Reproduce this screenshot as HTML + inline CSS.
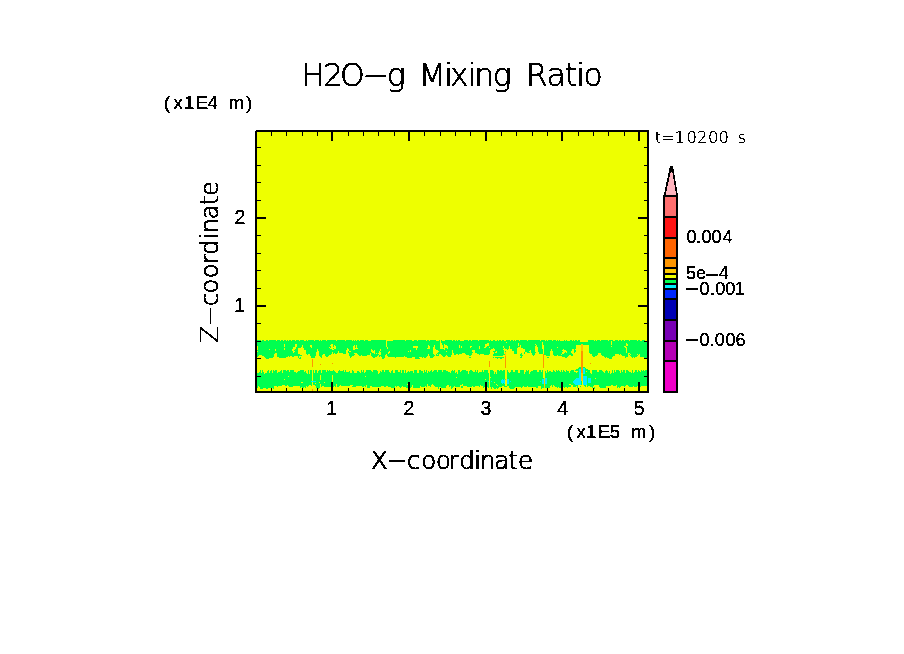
<!DOCTYPE html>
<html><head><meta charset="utf-8"><title>H2O-g Mixing Ratio</title>
<style>html,body{margin:0;padding:0;background:#fff;width:904px;height:654px;overflow:hidden}svg{display:block}text{fill:#000}</style>
</head><body><svg width="904" height="654" viewBox="0 0 904 654" shape-rendering="crispEdges"><defs><filter id="bin" filterUnits="userSpaceOnUse" x="0" y="0" width="904" height="654"><feComponentTransfer><feFuncA type="discrete" tableValues="0 1 1"/></feComponentTransfer></filter></defs><rect x="257" y="132" width="390" height="259" fill="#eeff00"/><path fill="#00ff50" d="M257 340h4v1h-4zM262 340h2v1h-2zM266 340h2v1h-2zM269 340h7v1h-7zM277 340h3v1h-3zM281 340h2v1h-2zM284 340h2v1h-2zM287 340h1v1h-1zM289 340h2v1h-2zM292 340h3v1h-3zM296 340h3v1h-3zM300 340h4v1h-4zM306 340h1v1h-1zM308 340h6v1h-6zM315 340h4v1h-4zM320 340h1v1h-1zM322 340h4v1h-4zM327 340h9v1h-9zM337 340h8v1h-8zM346 340h6v1h-6zM353 340h1v1h-1zM355 340h1v1h-1zM357 340h2v1h-2zM360 340h4v1h-4zM365 340h3v1h-3zM371 340h15v1h-15zM393 340h12v1h-12zM406 340h6v1h-6zM414 340h3v1h-3zM418 340h8v1h-8zM427 340h2v1h-2zM430 340h6v1h-6zM439 340h1v1h-1zM441 340h1v1h-1zM445 340h7v1h-7zM453 340h2v1h-2zM456 340h1v1h-1zM458 340h2v1h-2zM464 340h4v1h-4zM469 340h2v1h-2zM472 340h6v1h-6zM479 340h10v1h-10zM490 340h1v1h-1zM493 340h2v1h-2zM497 340h1v1h-1zM499 340h2v1h-2zM502 340h2v1h-2zM506 340h4v1h-4zM511 340h2v1h-2zM514 340h1v1h-1zM516 340h3v1h-3zM520 340h7v1h-7zM528 340h12v1h-12zM541 340h4v1h-4zM546 340h1v1h-1zM548 340h4v1h-4zM553 340h3v1h-3zM557 340h1v1h-1zM559 340h1v1h-1zM564 340h1v1h-1zM566 340h1v1h-1zM570 340h2v1h-2zM573 340h1v1h-1zM575 340h2v1h-2zM578 340h2v1h-2zM588 340h6v1h-6zM595 340h1v1h-1zM597 340h3v1h-3zM601 340h7v1h-7zM609 340h4v1h-4zM615 340h3v1h-3zM619 340h2v1h-2zM622 340h2v1h-2zM625 340h4v1h-4zM630 340h7v1h-7zM638 340h2v1h-2zM642 340h3v1h-3zM257 341h129v1h-129zM387 341h53v1h-53zM441 341h139v1h-139zM588 341h23v1h-23zM612 341h35v1h-35zM257 342h129v1h-129zM387 342h53v1h-53zM441 342h65v1h-65zM507 342h35v1h-35zM543 342h68v1h-68zM612 342h35v1h-35zM257 343h129v1h-129zM387 343h53v1h-53zM442 343h45v1h-45zM489 343h29v1h-29zM519 343h23v1h-23zM543 343h68v1h-68zM612 343h14v1h-14zM627 343h20v1h-20zM257 344h27v1h-27zM285 344h10v1h-10zM297 344h34v1h-34zM333 344h53v1h-53zM387 344h53v1h-53zM442 344h2v1h-2zM445 344h40v1h-40zM489 344h29v1h-29zM519 344h16v1h-16zM536 344h6v1h-6zM543 344h38v1h-38zM583 344h28v1h-28zM612 344h14v1h-14zM628 344h19v1h-19zM257 345h27v1h-27zM285 345h10v1h-10zM297 345h5v1h-5zM303 345h7v1h-7zM312 345h18v1h-18zM333 345h1v1h-1zM335 345h19v1h-19zM355 345h1v1h-1zM357 345h29v1h-29zM387 345h41v1h-41zM429 345h5v1h-5zM435 345h5v1h-5zM443 345h1v1h-1zM447 345h12v1h-12zM460 345h25v1h-25zM489 345h29v1h-29zM519 345h1v1h-1zM521 345h15v1h-15zM537 345h5v1h-5zM544 345h32v1h-32zM589 345h37v1h-37zM628 345h19v1h-19zM258 346h26v1h-26zM285 346h10v1h-10zM297 346h5v1h-5zM303 346h7v1h-7zM312 346h19v1h-19zM333 346h1v1h-1zM336 346h17v1h-17zM355 346h1v1h-1zM357 346h29v1h-29zM387 346h26v1h-26zM418 346h10v1h-10zM430 346h4v1h-4zM435 346h5v1h-5zM443 346h1v1h-1zM448 346h11v1h-11zM460 346h1v1h-1zM462 346h8v1h-8zM472 346h7v1h-7zM480 346h5v1h-5zM487 346h16v1h-16zM504 346h5v1h-5zM510 346h10v1h-10zM521 346h14v1h-14zM537 346h5v1h-5zM544 346h32v1h-32zM589 346h22v1h-22zM612 346h12v1h-12zM626 346h21v1h-21zM258 347h35v1h-35zM296 347h5v1h-5zM303 347h8v1h-8zM312 347h17v1h-17zM330 347h1v1h-1zM336 347h17v1h-17zM355 347h1v1h-1zM357 347h30v1h-30zM388 347h25v1h-25zM418 347h10v1h-10zM430 347h3v1h-3zM435 347h5v1h-5zM443 347h1v1h-1zM448 347h11v1h-11zM460 347h1v1h-1zM462 347h8v1h-8zM471 347h8v1h-8zM480 347h4v1h-4zM486 347h3v1h-3zM490 347h13v1h-13zM504 347h5v1h-5zM510 347h8v1h-8zM521 347h14v1h-14zM538 347h4v1h-4zM544 347h13v1h-13zM558 347h18v1h-18zM589 347h36v1h-36zM627 347h20v1h-20zM258 348h26v1h-26zM285 348h8v1h-8zM296 348h2v1h-2zM304 348h26v1h-26zM333 348h1v1h-1zM336 348h11v1h-11zM348 348h5v1h-5zM358 348h29v1h-29zM388 348h28v1h-28zM417 348h10v1h-10zM430 348h3v1h-3zM435 348h5v1h-5zM445 348h2v1h-2zM448 348h31v1h-31zM480 348h13v1h-13zM494 348h10v1h-10zM505 348h4v1h-4zM510 348h7v1h-7zM523 348h12v1h-12zM538 348h4v1h-4zM544 348h32v1h-32zM589 348h37v1h-37zM627 348h20v1h-20zM258 349h11v1h-11zM270 349h5v1h-5zM276 349h8v1h-8zM285 349h7v1h-7zM295 349h3v1h-3zM304 349h13v1h-13zM318 349h14v1h-14zM334 349h13v1h-13zM349 349h4v1h-4zM355 349h16v1h-16zM372 349h8v1h-8zM381 349h35v1h-35zM417 349h16v1h-16zM436 349h8v1h-8zM445 349h46v1h-46zM495 349h8v1h-8zM507 349h1v1h-1zM512 349h5v1h-5zM525 349h10v1h-10zM538 349h5v1h-5zM544 349h7v1h-7zM552 349h11v1h-11zM564 349h8v1h-8zM574 349h1v1h-1zM589 349h37v1h-37zM627 349h20v1h-20zM257 350h18v1h-18zM276 350h16v1h-16zM294 350h4v1h-4zM306 350h11v1h-11zM318 350h28v1h-28zM349 350h22v1h-22zM373 350h1v1h-1zM375 350h5v1h-5zM381 350h29v1h-29zM411 350h22v1h-22zM438 350h14v1h-14zM453 350h19v1h-19zM475 350h15v1h-15zM495 350h9v1h-9zM512 350h5v1h-5zM525 350h5v1h-5zM531 350h4v1h-4zM538 350h5v1h-5zM544 350h7v1h-7zM552 350h10v1h-10zM566 350h6v1h-6zM574 350h2v1h-2zM589 350h37v1h-37zM627 350h20v1h-20zM258 351h35v1h-35zM295 351h3v1h-3zM306 351h11v1h-11zM319 351h19v1h-19zM339 351h7v1h-7zM348 351h1v1h-1zM351 351h20v1h-20zM375 351h4v1h-4zM380 351h9v1h-9zM390 351h18v1h-18zM409 351h1v1h-1zM411 351h22v1h-22zM439 351h7v1h-7zM447 351h5v1h-5zM453 351h19v1h-19zM475 351h15v1h-15zM493 351h3v1h-3zM497 351h7v1h-7zM505 351h1v1h-1zM514 351h3v1h-3zM525 351h4v1h-4zM531 351h4v1h-4zM538 351h5v1h-5zM544 351h6v1h-6zM553 351h10v1h-10zM567 351h4v1h-4zM574 351h2v1h-2zM589 351h37v1h-37zM627 351h20v1h-20zM257 352h36v1h-36zM294 352h4v1h-4zM306 352h10v1h-10zM319 352h13v1h-13zM333 352h5v1h-5zM339 352h7v1h-7zM348 352h24v1h-24zM375 352h4v1h-4zM381 352h7v1h-7zM390 352h43v1h-43zM438 352h14v1h-14zM453 352h20v1h-20zM475 352h15v1h-15zM494 352h1v1h-1zM497 352h7v1h-7zM514 352h3v1h-3zM524 352h1v1h-1zM527 352h3v1h-3zM531 352h5v1h-5zM539 352h4v1h-4zM544 352h6v1h-6zM553 352h9v1h-9zM565 352h1v1h-1zM567 352h4v1h-4zM574 352h1v1h-1zM589 352h37v1h-37zM627 352h20v1h-20zM257 353h18v1h-18zM277 353h21v1h-21zM306 353h10v1h-10zM319 353h13v1h-13zM333 353h1v1h-1zM335 353h2v1h-2zM343 353h3v1h-3zM349 353h5v1h-5zM357 353h13v1h-13zM371 353h3v1h-3zM375 353h1v1h-1zM377 353h1v1h-1zM381 353h7v1h-7zM389 353h44v1h-44zM437 353h15v1h-15zM454 353h8v1h-8zM465 353h7v1h-7zM477 353h13v1h-13zM494 353h10v1h-10zM514 353h3v1h-3zM521 353h1v1h-1zM524 353h1v1h-1zM532 353h3v1h-3zM539 353h4v1h-4zM544 353h6v1h-6zM553 353h9v1h-9zM564 353h8v1h-8zM590 353h8v1h-8zM601 353h27v1h-27zM630 353h17v1h-17zM257 354h17v1h-17zM277 354h23v1h-23zM307 354h1v1h-1zM310 354h6v1h-6zM319 354h4v1h-4zM325 354h6v1h-6zM349 354h6v1h-6zM358 354h12v1h-12zM371 354h8v1h-8zM381 354h5v1h-5zM387 354h41v1h-41zM429 354h5v1h-5zM436 354h1v1h-1zM438 354h1v1h-1zM441 354h11v1h-11zM454 354h2v1h-2zM458 354h1v1h-1zM466 354h6v1h-6zM479 354h1v1h-1zM484 354h5v1h-5zM493 354h12v1h-12zM520 354h2v1h-2zM532 354h3v1h-3zM544 354h6v1h-6zM553 354h8v1h-8zM562 354h11v1h-11zM592 354h6v1h-6zM601 354h14v1h-14zM619 354h1v1h-1zM621 354h7v1h-7zM629 354h1v1h-1zM631 354h6v1h-6zM638 354h1v1h-1zM640 354h7v1h-7zM257 355h2v1h-2zM262 355h12v1h-12zM277 355h25v1h-25zM310 355h6v1h-6zM319 355h3v1h-3zM325 355h4v1h-4zM349 355h5v1h-5zM359 355h2v1h-2zM362 355h5v1h-5zM371 355h7v1h-7zM379 355h6v1h-6zM387 355h41v1h-41zM429 355h6v1h-6zM436 355h3v1h-3zM442 355h4v1h-4zM447 355h4v1h-4zM469 355h2v1h-2zM493 355h10v1h-10zM520 355h3v1h-3zM533 355h1v1h-1zM546 355h4v1h-4zM554 355h3v1h-3zM558 355h11v1h-11zM571 355h2v1h-2zM592 355h5v1h-5zM602 355h13v1h-13zM622 355h6v1h-6zM630 355h8v1h-8zM640 355h7v1h-7zM257 356h1v1h-1zM264 356h10v1h-10zM277 356h11v1h-11zM289 356h1v1h-1zM292 356h2v1h-2zM298 356h1v1h-1zM311 356h4v1h-4zM320 356h2v1h-2zM326 356h2v1h-2zM350 356h2v1h-2zM372 356h5v1h-5zM379 356h1v1h-1zM381 356h4v1h-4zM388 356h16v1h-16zM405 356h22v1h-22zM430 356h4v1h-4zM443 356h2v1h-2zM448 356h3v1h-3zM521 356h1v1h-1zM562 356h6v1h-6zM593 356h2v1h-2zM604 356h9v1h-9zM625 356h3v1h-3zM631 356h6v1h-6zM640 356h7v1h-7zM265 357h8v1h-8zM279 357h7v1h-7zM298 357h1v1h-1zM300 357h1v1h-1zM311 357h4v1h-4zM321 357h1v1h-1zM350 357h1v1h-1zM373 357h2v1h-2zM382 357h3v1h-3zM395 357h1v1h-1zM407 357h5v1h-5zM415 357h4v1h-4zM422 357h1v1h-1zM424 357h2v1h-2zM430 357h3v1h-3zM469 357h2v1h-2zM493 357h1v1h-1zM495 357h9v1h-9zM520 357h2v1h-2zM547 357h2v1h-2zM565 357h2v1h-2zM605 357h1v1h-1zM607 357h5v1h-5zM625 357h1v1h-1zM632 357h1v1h-1zM634 357h1v1h-1zM644 357h3v1h-3zM266 358h3v1h-3zM299 358h2v1h-2zM382 358h2v1h-2zM415 358h5v1h-5zM497 358h1v1h-1zM500 358h2v1h-2zM609 358h3v1h-3zM644 358h2v1h-2zM579 367h2v1h-2zM583 367h2v1h-2zM578 368h3v1h-3zM585 368h1v1h-1zM576 369h3v1h-3zM585 369h3v1h-3zM260 370h1v1h-1zM262 370h1v1h-1zM268 370h1v1h-1zM271 370h1v1h-1zM273 370h1v1h-1zM275 370h2v1h-2zM281 370h1v1h-1zM283 370h3v1h-3zM287 370h2v1h-2zM290 370h4v1h-4zM300 370h4v1h-4zM308 370h1v1h-1zM310 370h2v1h-2zM313 370h1v1h-1zM315 370h2v1h-2zM319 370h2v1h-2zM322 370h4v1h-4zM327 370h1v1h-1zM329 370h1v1h-1zM333 370h1v1h-1zM339 370h1v1h-1zM343 370h1v1h-1zM345 370h1v1h-1zM352 370h1v1h-1zM361 370h1v1h-1zM363 370h1v1h-1zM366 370h5v1h-5zM373 370h4v1h-4zM382 370h2v1h-2zM385 370h4v1h-4zM392 370h1v1h-1zM395 370h3v1h-3zM400 370h1v1h-1zM402 370h2v1h-2zM405 370h1v1h-1zM414 370h3v1h-3zM419 370h2v1h-2zM424 370h1v1h-1zM426 370h1v1h-1zM431 370h1v1h-1zM434 370h3v1h-3zM438 370h4v1h-4zM443 370h3v1h-3zM452 370h1v1h-1zM454 370h1v1h-1zM458 370h2v1h-2zM462 370h4v1h-4zM470 370h2v1h-2zM475 370h1v1h-1zM477 370h1v1h-1zM482 370h1v1h-1zM484 370h4v1h-4zM490 370h3v1h-3zM497 370h2v1h-2zM500 370h2v1h-2zM503 370h2v1h-2zM507 370h1v1h-1zM511 370h2v1h-2zM515 370h3v1h-3zM520 370h4v1h-4zM526 370h1v1h-1zM528 370h1v1h-1zM533 370h4v1h-4zM539 370h2v1h-2zM542 370h1v1h-1zM547 370h1v1h-1zM553 370h1v1h-1zM556 370h1v1h-1zM558 370h1v1h-1zM561 370h1v1h-1zM563 370h1v1h-1zM566 370h1v1h-1zM571 370h3v1h-3zM575 370h4v1h-4zM585 370h5v1h-5zM592 370h5v1h-5zM599 370h3v1h-3zM606 370h1v1h-1zM612 370h1v1h-1zM614 370h1v1h-1zM616 370h3v1h-3zM621 370h1v1h-1zM623 370h2v1h-2zM626 370h2v1h-2zM632 370h1v1h-1zM635 370h2v1h-2zM638 370h1v1h-1zM641 370h1v1h-1zM643 370h1v1h-1zM645 370h2v1h-2zM260 371h1v1h-1zM262 371h1v1h-1zM267 371h2v1h-2zM270 371h2v1h-2zM273 371h4v1h-4zM280 371h2v1h-2zM283 371h6v1h-6zM290 371h4v1h-4zM298 371h6v1h-6zM305 371h1v1h-1zM308 371h1v1h-1zM310 371h2v1h-2zM313 371h1v1h-1zM315 371h2v1h-2zM318 371h3v1h-3zM322 371h4v1h-4zM327 371h8v1h-8zM338 371h6v1h-6zM345 371h1v1h-1zM349 371h1v1h-1zM352 371h2v1h-2zM357 371h2v1h-2zM361 371h1v1h-1zM363 371h1v1h-1zM366 371h6v1h-6zM373 371h5v1h-5zM380 371h1v1h-1zM382 371h2v1h-2zM385 371h4v1h-4zM391 371h2v1h-2zM395 371h3v1h-3zM400 371h1v1h-1zM402 371h2v1h-2zM405 371h1v1h-1zM408 371h1v1h-1zM410 371h3v1h-3zM414 371h3v1h-3zM419 371h4v1h-4zM424 371h1v1h-1zM426 371h1v1h-1zM428 371h1v1h-1zM430 371h2v1h-2zM433 371h4v1h-4zM438 371h4v1h-4zM443 371h5v1h-5zM451 371h4v1h-4zM458 371h2v1h-2zM461 371h7v1h-7zM469 371h4v1h-4zM475 371h1v1h-1zM477 371h1v1h-1zM482 371h1v1h-1zM484 371h4v1h-4zM490 371h4v1h-4zM497 371h8v1h-8zM507 371h1v1h-1zM511 371h2v1h-2zM515 371h3v1h-3zM520 371h4v1h-4zM526 371h3v1h-3zM531 371h6v1h-6zM539 371h2v1h-2zM542 371h1v1h-1zM545 371h1v1h-1zM547 371h1v1h-1zM549 371h2v1h-2zM553 371h2v1h-2zM556 371h4v1h-4zM561 371h1v1h-1zM563 371h2v1h-2zM566 371h3v1h-3zM570 371h4v1h-4zM578 371h1v1h-1zM585 371h1v1h-1zM587 371h3v1h-3zM592 371h5v1h-5zM599 371h4v1h-4zM605 371h3v1h-3zM609 371h1v1h-1zM612 371h1v1h-1zM614 371h1v1h-1zM616 371h4v1h-4zM621 371h1v1h-1zM623 371h2v1h-2zM626 371h3v1h-3zM632 371h1v1h-1zM635 371h2v1h-2zM638 371h2v1h-2zM641 371h6v1h-6zM259 372h2v1h-2zM262 372h2v1h-2zM267 372h2v1h-2zM270 372h2v1h-2zM273 372h4v1h-4zM278 372h4v1h-4zM283 372h13v1h-13zM297 372h9v1h-9zM308 372h1v1h-1zM310 372h2v1h-2zM313 372h1v1h-1zM315 372h2v1h-2zM318 372h3v1h-3zM322 372h14v1h-14zM338 372h12v1h-12zM352 372h2v1h-2zM357 372h3v1h-3zM361 372h3v1h-3zM365 372h13v1h-13zM380 372h10v1h-10zM391 372h2v1h-2zM395 372h6v1h-6zM402 372h2v1h-2zM405 372h1v1h-1zM407 372h6v1h-6zM414 372h3v1h-3zM419 372h4v1h-4zM424 372h3v1h-3zM428 372h22v1h-22zM451 372h4v1h-4zM456 372h1v1h-1zM458 372h10v1h-10zM469 372h9v1h-9zM479 372h9v1h-9zM490 372h4v1h-4zM495 372h1v1h-1zM497 372h8v1h-8zM507 372h2v1h-2zM510 372h8v1h-8zM520 372h4v1h-4zM525 372h4v1h-4zM530 372h13v1h-13zM545 372h1v1h-1zM547 372h22v1h-22zM570 372h6v1h-6zM577 372h2v1h-2zM585 372h5v1h-5zM592 372h12v1h-12zM605 372h3v1h-3zM609 372h1v1h-1zM612 372h1v1h-1zM614 372h6v1h-6zM621 372h4v1h-4zM626 372h5v1h-5zM632 372h1v1h-1zM634 372h13v1h-13zM257 373h7v1h-7zM265 373h42v1h-42zM308 373h1v1h-1zM310 373h2v1h-2zM313 373h65v1h-65zM379 373h78v1h-78zM458 373h10v1h-10zM469 373h20v1h-20zM490 373h4v1h-4zM495 373h1v1h-1zM497 373h8v1h-8zM507 373h17v1h-17zM525 373h4v1h-4zM530 373h13v1h-13zM545 373h34v1h-34zM585 373h6v1h-6zM592 373h18v1h-18zM611 373h36v1h-36zM257 374h55v1h-55zM313 374h176v1h-176zM490 374h15v1h-15zM507 374h36v1h-36zM545 374h34v1h-34zM583 374h64v1h-64zM257 375h55v1h-55zM313 375h7v1h-7zM321 375h11v1h-11zM333 375h156v1h-156zM490 375h15v1h-15zM507 375h36v1h-36zM545 375h34v1h-34zM583 375h64v1h-64zM257 376h31v1h-31zM289 376h23v1h-23zM313 376h7v1h-7zM321 376h11v1h-11zM333 376h32v1h-32zM366 376h123v1h-123zM490 376h15v1h-15zM507 376h36v1h-36zM545 376h34v1h-34zM587 376h60v1h-60zM257 377h55v1h-55zM313 377h7v1h-7zM321 377h11v1h-11zM333 377h123v1h-123zM457 377h32v1h-32zM491 377h14v1h-14zM507 377h36v1h-36zM545 377h34v1h-34zM587 377h60v1h-60zM257 378h55v1h-55zM313 378h7v1h-7zM321 378h11v1h-11zM333 378h156v1h-156zM490 378h15v1h-15zM507 378h37v1h-37zM547 378h29v1h-29zM587 378h1v1h-1zM591 378h4v1h-4zM596 378h51v1h-51zM257 379h27v1h-27zM285 379h27v1h-27zM313 379h7v1h-7zM321 379h11v1h-11zM333 379h152v1h-152zM486 379h3v1h-3zM490 379h12v1h-12zM503 379h1v1h-1zM509 379h33v1h-33zM547 379h28v1h-28zM587 379h1v1h-1zM591 379h56v1h-56zM257 380h55v1h-55zM313 380h19v1h-19zM333 380h156v1h-156zM490 380h11v1h-11zM509 380h33v1h-33zM547 380h27v1h-27zM587 380h1v1h-1zM591 380h56v1h-56zM257 381h54v1h-54zM316 381h16v1h-16zM333 381h155v1h-155zM490 381h1v1h-1zM492 381h9v1h-9zM509 381h1v1h-1zM511 381h29v1h-29zM541 381h1v1h-1zM547 381h26v1h-26zM581 381h1v1h-1zM587 381h1v1h-1zM591 381h56v1h-56zM257 382h44v1h-44zM303 382h9v1h-9zM313 382h6v1h-6zM320 382h4v1h-4zM325 382h7v1h-7zM333 382h156v1h-156zM490 382h4v1h-4zM495 382h6v1h-6zM509 382h33v1h-33zM547 382h26v1h-26zM581 382h1v1h-1zM587 382h1v1h-1zM591 382h56v1h-56zM257 383h55v1h-55zM313 383h2v1h-2zM316 383h173v1h-173zM490 383h12v1h-12zM503 383h1v1h-1zM509 383h33v1h-33zM547 383h27v1h-27zM581 383h1v1h-1zM587 383h60v1h-60zM257 384h55v1h-55zM313 384h7v1h-7zM321 384h15v1h-15zM337 384h70v1h-70zM408 384h19v1h-19zM428 384h4v1h-4zM433 384h29v1h-29zM463 384h26v1h-26zM490 384h6v1h-6zM497 384h8v1h-8zM507 384h37v1h-37zM545 384h24v1h-24zM571 384h4v1h-4zM581 384h1v1h-1zM587 384h60v1h-60zM257 385h25v1h-25zM285 385h2v1h-2zM288 385h21v1h-21zM311 385h1v1h-1zM315 385h5v1h-5zM321 385h15v1h-15zM337 385h3v1h-3zM341 385h9v1h-9zM353 385h13v1h-13zM367 385h45v1h-45zM413 385h14v1h-14zM428 385h3v1h-3zM434 385h13v1h-13zM449 385h11v1h-11zM463 385h17v1h-17zM481 385h8v1h-8zM490 385h7v1h-7zM498 385h7v1h-7zM507 385h37v1h-37zM545 385h6v1h-6zM552 385h1v1h-1zM554 385h17v1h-17zM573 385h5v1h-5zM584 385h2v1h-2zM587 385h7v1h-7zM599 385h12v1h-12zM613 385h3v1h-3zM617 385h9v1h-9zM628 385h19v1h-19zM257 386h1v1h-1zM259 386h15v1h-15zM277 386h1v1h-1zM289 386h4v1h-4zM300 386h6v1h-6zM307 386h1v1h-1zM316 386h4v1h-4zM321 386h1v1h-1zM324 386h7v1h-7zM333 386h1v1h-1zM335 386h1v1h-1zM337 386h2v1h-2zM352 386h4v1h-4zM362 386h2v1h-2zM365 386h1v1h-1zM367 386h3v1h-3zM372 386h9v1h-9zM384 386h2v1h-2zM388 386h7v1h-7zM396 386h1v1h-1zM399 386h3v1h-3zM403 386h9v1h-9zM413 386h7v1h-7zM421 386h4v1h-4zM426 386h1v1h-1zM430 386h1v1h-1zM435 386h11v1h-11zM449 386h1v1h-1zM451 386h3v1h-3zM455 386h5v1h-5zM461 386h2v1h-2zM467 386h5v1h-5zM473 386h2v1h-2zM479 386h1v1h-1zM483 386h6v1h-6zM490 386h12v1h-12zM504 386h3v1h-3zM509 386h14v1h-14zM524 386h3v1h-3zM528 386h10v1h-10zM541 386h3v1h-3zM545 386h5v1h-5zM552 386h1v1h-1zM555 386h6v1h-6zM562 386h9v1h-9zM573 386h3v1h-3zM577 386h1v1h-1zM580 386h1v1h-1zM585 386h1v1h-1zM587 386h1v1h-1zM590 386h3v1h-3zM599 386h7v1h-7zM617 386h4v1h-4zM624 386h1v1h-1zM629 386h4v1h-4zM634 386h3v1h-3zM640 386h1v1h-1zM257 387h1v1h-1zM260 387h14v1h-14zM300 387h1v1h-1zM302 387h2v1h-2zM305 387h1v1h-1zM316 387h4v1h-4zM367 387h3v1h-3zM391 387h4v1h-4zM400 387h1v1h-1zM406 387h5v1h-5zM413 387h7v1h-7zM438 387h1v1h-1zM441 387h5v1h-5zM451 387h2v1h-2zM461 387h2v1h-2zM483 387h1v1h-1zM485 387h1v1h-1zM488 387h1v1h-1zM491 387h1v1h-1zM493 387h6v1h-6zM509 387h6v1h-6zM521 387h1v1h-1zM536 387h2v1h-2zM541 387h3v1h-3zM545 387h5v1h-5zM557 387h1v1h-1zM559 387h2v1h-2zM564 387h1v1h-1zM567 387h1v1h-1zM577 387h1v1h-1zM592 387h1v1h-1zM594 387h1v1h-1zM600 387h6v1h-6zM617 387h1v1h-1zM619 387h1v1h-1zM260 388h3v1h-3zM266 388h2v1h-2zM273 388h1v1h-1zM317 388h2v1h-2zM438 388h1v1h-1zM451 388h1v1h-1zM491 388h1v1h-1zM494 388h2v1h-2zM497 388h1v1h-1zM510 388h4v1h-4zM541 388h1v1h-1zM594 388h1v1h-1z"/><path fill="#00f0ff" d="M583 368h2v1h-2zM579 369h2v1h-2zM583 369h2v1h-2zM579 370h2v1h-2zM583 370h2v1h-2zM579 371h2v1h-2zM583 371h2v1h-2zM579 372h2v1h-2zM583 372h2v1h-2zM579 373h2v1h-2zM583 373h2v1h-2zM579 374h2v1h-2zM579 375h2v1h-2zM579 376h2v1h-2zM583 376h4v1h-4zM579 377h2v1h-2zM583 377h4v1h-4zM545 378h2v1h-2zM576 378h5v1h-5zM583 378h4v1h-4zM588 378h3v1h-3zM502 379h1v1h-1zM504 379h1v1h-1zM507 379h2v1h-2zM542 379h2v1h-2zM545 379h2v1h-2zM575 379h6v1h-6zM583 379h4v1h-4zM588 379h3v1h-3zM501 380h4v1h-4zM507 380h2v1h-2zM542 380h2v1h-2zM545 380h2v1h-2zM574 380h7v1h-7zM583 380h4v1h-4zM588 380h3v1h-3zM311 381h5v1h-5zM488 381h1v1h-1zM491 381h1v1h-1zM501 381h4v1h-4zM507 381h2v1h-2zM510 381h1v1h-1zM540 381h1v1h-1zM542 381h2v1h-2zM545 381h2v1h-2zM573 381h8v1h-8zM583 381h4v1h-4zM588 381h3v1h-3zM501 382h4v1h-4zM507 382h2v1h-2zM542 382h2v1h-2zM545 382h2v1h-2zM573 382h8v1h-8zM583 382h4v1h-4zM588 382h3v1h-3zM502 383h1v1h-1zM504 383h1v1h-1zM507 383h2v1h-2zM542 383h2v1h-2zM545 383h2v1h-2zM574 383h7v1h-7zM583 383h4v1h-4zM575 384h6v1h-6zM583 384h4v1h-4z"/><path fill="#ffc800" d="M581 344h2v1h-2zM581 345h2v1h-2zM581 346h2v1h-2zM581 347h2v1h-2zM581 348h2v1h-2zM581 349h2v1h-2zM581 350h2v1h-2zM505 352h1v1h-1zM505 353h1v1h-1zM505 354h1v1h-1zM505 355h1v1h-1zM581 373h2v1h-2zM581 374h2v1h-2zM581 375h2v1h-2zM581 376h2v1h-2zM581 377h2v1h-2zM544 378h1v1h-1zM581 378h2v1h-2zM544 379h1v1h-1zM581 379h2v1h-2zM544 380h1v1h-1zM581 380h2v1h-2zM544 381h1v1h-1zM544 382h1v1h-1zM544 383h1v1h-1zM544 384h1v1h-1zM544 385h1v1h-1zM544 386h1v1h-1zM544 387h1v1h-1z"/><path fill="#ff9600" d="M581 351h2v1h-2zM581 352h2v1h-2zM581 353h2v1h-2zM543 354h1v1h-1zM581 354h2v1h-2zM543 355h1v1h-1zM581 355h2v1h-2zM505 356h1v1h-1zM543 356h1v1h-1zM581 356h2v1h-2zM505 357h1v1h-1zM543 357h1v1h-1zM581 357h2v1h-2zM505 358h1v1h-1zM543 358h1v1h-1zM581 358h2v1h-2zM312 359h1v1h-1zM505 359h1v1h-1zM543 359h1v1h-1zM581 359h2v1h-2zM312 360h1v1h-1zM505 360h1v1h-1zM543 360h1v1h-1zM581 360h2v1h-2zM312 361h1v1h-1zM489 361h1v1h-1zM505 361h1v1h-1zM543 361h1v1h-1zM581 361h2v1h-2zM312 362h1v1h-1zM489 362h1v1h-1zM505 362h1v1h-1zM543 362h1v1h-1zM581 362h2v1h-2zM312 363h1v1h-1zM332 363h1v1h-1zM489 363h1v1h-1zM505 363h1v1h-1zM543 363h1v1h-1zM581 363h2v1h-2zM590 363h1v1h-1zM312 364h1v1h-1zM320 364h1v1h-1zM489 364h1v1h-1zM505 364h1v1h-1zM543 364h1v1h-1zM581 364h2v1h-2zM312 365h1v1h-1zM489 365h1v1h-1zM505 365h1v1h-1zM543 365h1v1h-1zM581 365h2v1h-2zM312 366h1v1h-1zM489 366h1v1h-1zM505 366h1v1h-1zM543 366h1v1h-1zM581 366h2v1h-2zM505 367h1v1h-1zM543 367h1v1h-1zM581 367h2v1h-2zM581 368h2v1h-2zM581 369h2v1h-2zM581 370h2v1h-2zM581 371h2v1h-2zM581 372h2v1h-2zM505 379h1v1h-1zM312 389h1v1h-1zM312 390h1v1h-1z"/><rect x="256" y="130" width="393" height="2" fill="#000"/><rect x="255" y="391" width="394" height="2" fill="#000"/><rect x="255" y="131" width="2" height="262" fill="#000"/><rect x="647" y="130" width="2" height="263" fill="#000"/><rect x="331" y="132" width="2" height="9" fill="#000"/><rect x="331" y="382" width="2" height="9" fill="#000"/><rect x="408" y="132" width="2" height="9" fill="#000"/><rect x="408" y="382" width="2" height="9" fill="#000"/><rect x="485" y="132" width="2" height="9" fill="#000"/><rect x="485" y="382" width="2" height="9" fill="#000"/><rect x="561" y="132" width="2" height="9" fill="#000"/><rect x="561" y="382" width="2" height="9" fill="#000"/><rect x="638" y="132" width="2" height="9" fill="#000"/><rect x="638" y="382" width="2" height="9" fill="#000"/><rect x="271" y="132" width="1" height="4" fill="#000"/><rect x="271" y="388" width="1" height="3" fill="#000"/><rect x="286" y="132" width="1" height="4" fill="#000"/><rect x="286" y="388" width="1" height="3" fill="#000"/><rect x="302" y="132" width="1" height="4" fill="#000"/><rect x="302" y="388" width="1" height="3" fill="#000"/><rect x="317" y="132" width="1" height="4" fill="#000"/><rect x="317" y="388" width="1" height="3" fill="#000"/><rect x="348" y="132" width="1" height="4" fill="#000"/><rect x="348" y="388" width="1" height="3" fill="#000"/><rect x="363" y="132" width="1" height="4" fill="#000"/><rect x="363" y="388" width="1" height="3" fill="#000"/><rect x="378" y="132" width="1" height="4" fill="#000"/><rect x="378" y="388" width="1" height="3" fill="#000"/><rect x="394" y="132" width="1" height="4" fill="#000"/><rect x="394" y="388" width="1" height="3" fill="#000"/><rect x="424" y="132" width="1" height="4" fill="#000"/><rect x="424" y="388" width="1" height="3" fill="#000"/><rect x="440" y="132" width="1" height="4" fill="#000"/><rect x="440" y="388" width="1" height="3" fill="#000"/><rect x="455" y="132" width="1" height="4" fill="#000"/><rect x="455" y="388" width="1" height="3" fill="#000"/><rect x="470" y="132" width="1" height="4" fill="#000"/><rect x="470" y="388" width="1" height="3" fill="#000"/><rect x="501" y="132" width="1" height="4" fill="#000"/><rect x="501" y="388" width="1" height="3" fill="#000"/><rect x="516" y="132" width="1" height="4" fill="#000"/><rect x="516" y="388" width="1" height="3" fill="#000"/><rect x="532" y="132" width="1" height="4" fill="#000"/><rect x="532" y="388" width="1" height="3" fill="#000"/><rect x="547" y="132" width="1" height="4" fill="#000"/><rect x="547" y="388" width="1" height="3" fill="#000"/><rect x="578" y="132" width="1" height="4" fill="#000"/><rect x="578" y="388" width="1" height="3" fill="#000"/><rect x="593" y="132" width="1" height="4" fill="#000"/><rect x="593" y="388" width="1" height="3" fill="#000"/><rect x="608" y="132" width="1" height="4" fill="#000"/><rect x="608" y="388" width="1" height="3" fill="#000"/><rect x="624" y="132" width="1" height="4" fill="#000"/><rect x="624" y="388" width="1" height="3" fill="#000"/><rect x="257" y="376" width="4" height="1" fill="#000"/><rect x="644" y="376" width="3" height="1" fill="#000"/><rect x="257" y="358" width="4" height="1" fill="#000"/><rect x="644" y="358" width="3" height="1" fill="#000"/><rect x="257" y="341" width="4" height="1" fill="#000"/><rect x="644" y="341" width="3" height="1" fill="#000"/><rect x="257" y="323" width="4" height="1" fill="#000"/><rect x="644" y="323" width="3" height="1" fill="#000"/><rect x="257" y="305" width="9" height="2" fill="#000"/><rect x="638" y="305" width="9" height="2" fill="#000"/><rect x="257" y="288" width="4" height="1" fill="#000"/><rect x="644" y="288" width="3" height="1" fill="#000"/><rect x="257" y="270" width="4" height="1" fill="#000"/><rect x="644" y="270" width="3" height="1" fill="#000"/><rect x="257" y="253" width="4" height="1" fill="#000"/><rect x="644" y="253" width="3" height="1" fill="#000"/><rect x="257" y="235" width="4" height="1" fill="#000"/><rect x="644" y="235" width="3" height="1" fill="#000"/><rect x="257" y="217" width="9" height="2" fill="#000"/><rect x="638" y="217" width="9" height="2" fill="#000"/><rect x="257" y="200" width="4" height="1" fill="#000"/><rect x="644" y="200" width="3" height="1" fill="#000"/><rect x="257" y="182" width="4" height="1" fill="#000"/><rect x="644" y="182" width="3" height="1" fill="#000"/><rect x="257" y="165" width="4" height="1" fill="#000"/><rect x="644" y="165" width="3" height="1" fill="#000"/><rect x="257" y="147" width="4" height="1" fill="#000"/><rect x="644" y="147" width="3" height="1" fill="#000"/><rect x="663" y="195" width="15" height="198" fill="#000"/><rect x="665" y="197" width="11" height="19" fill="#ff6e6e"/><rect x="665" y="218" width="11" height="19" fill="#ff1414"/><rect x="665" y="239" width="11" height="18" fill="#ff6400"/><rect x="665" y="259" width="11" height="8" fill="#ff9600"/><rect x="665" y="269" width="11" height="4" fill="#ffc800"/><rect x="665" y="275" width="11" height="3" fill="#eeff00"/><rect x="665" y="280" width="11" height="3" fill="#00ff50"/><rect x="665" y="285" width="11" height="3" fill="#00f0ff"/><rect x="665" y="290" width="11" height="8" fill="#0028ff"/><rect x="665" y="300" width="11" height="19" fill="#0000b4"/><rect x="665" y="321" width="11" height="19" fill="#7800b4"/><rect x="665" y="342" width="11" height="18" fill="#b400b4"/><rect x="665" y="362" width="11" height="29" fill="#f000c8"/><polygon points="670,166 673,166 678.2,197 663.4,197" fill="#000"/><polygon points="670.8,171.5 672.3,171.5 676.2,195 665.6,195" fill="#ffb4be"/><g filter="url(#bin)"><text x="301.25 323.10 340.00 362.50 386.75 391.75 418.55 444.35 450.00 468.10 474.35 492.75 497.75 525.95 546.70 565.00 576.25 583.60" y="86" font-family="DejaVu Sans, sans-serif" font-weight="200" font-size="31.5" stroke="#000" stroke-width="0.35">H2O−g Mixing Ratio</text><text x="371.00 386.90 407.00 421.35 436.10 448.60 459.25 474.15 480.05 494.30 508.30 517.90" y="469" font-family="DejaVu Sans, sans-serif" font-weight="200" font-size="24.5" stroke="#000" stroke-width="0.7">X−coordinate</text><text x="-342.40 -326.45 -305.95 -293.50 -278.25 -263.95 -254.90 -239.60 -233.15 -219.25 -205.10 -195.95" y="0" transform="translate(218,0) rotate(-90)" font-family="DejaVu Sans, sans-serif" font-weight="200" font-size="24" stroke="#000" stroke-width="0.5">Z−coordinate</text><text x="164.05 173.40 184.00 195.75 207.60 212.60 228.55 245.90" y="109" font-family="Liberation Sans, sans-serif" font-weight="400" font-size="18.5" stroke="#000" stroke-width="0.1">(x1E4 m)</text><text x="567.05 576.40 586.00 598.10 609.65 614.65 630.95 649.00" y="438" font-family="Liberation Sans, sans-serif" font-weight="400" font-size="18.5" stroke="#000" stroke-width="0.1">(x1E5 m)</text><text x="654.85 661.60 674.55 686.40 697.00 708.00 718.60 723.60 737.50" y="143" font-family="DejaVu Sans, sans-serif" font-weight="200" font-size="16.5">t=10200 s</text><text x="686.55 696.00 701.60 711.60 722.40" y="243" font-family="Liberation Sans, sans-serif" font-weight="400" font-size="18" stroke="#000" stroke-width="0.1">0.004</text><text x="686.10 695.95 704.60 718.85" y="279" font-family="Liberation Sans, sans-serif" font-weight="400" font-size="18" stroke="#000" stroke-width="0.1">5e<tspan font-family="DejaVu Sans, sans-serif" font-weight="400" stroke-width="0.3" dy="2">−</tspan><tspan dy="-2">4</tspan></text><text x="684.55 699.40 710.00 715.20 725.25 734.80" y="295" font-family="Liberation Sans, sans-serif" font-weight="400" font-size="18" stroke="#000" stroke-width="0.1"><tspan font-family="DejaVu Sans, sans-serif" font-weight="400" stroke-width="0.3">−</tspan>0.001</text><text x="684.55 699.40 709.80 714.85 725.45 735.60" y="346" font-family="Liberation Sans, sans-serif" font-weight="400" font-size="18" stroke="#000" stroke-width="0.1"><tspan font-family="DejaVu Sans, sans-serif" font-weight="400" stroke-width="0.3">−</tspan>0.006</text><text x="234.60" y="224" font-family="Liberation Sans, sans-serif" font-weight="400" font-size="19.5" stroke="#000" stroke-width="0.1">2</text><text x="234.00" y="312" font-family="Liberation Sans, sans-serif" font-weight="400" font-size="19.5" stroke="#000" stroke-width="0.1">1</text><text x="326.10" y="415" font-family="Liberation Sans, sans-serif" font-weight="400" font-size="19.5" stroke="#000" stroke-width="0.1">1</text><text x="403.50" y="415" font-family="Liberation Sans, sans-serif" font-weight="400" font-size="19.5" stroke="#000" stroke-width="0.1">2</text><text x="480.50" y="415" font-family="Liberation Sans, sans-serif" font-weight="400" font-size="19.5" stroke="#000" stroke-width="0.1">3</text><text x="557.30" y="415" font-family="Liberation Sans, sans-serif" font-weight="400" font-size="19.5" stroke="#000" stroke-width="0.1">4</text><text x="633.80" y="415" font-family="Liberation Sans, sans-serif" font-weight="400" font-size="19.5" stroke="#000" stroke-width="0.1">5</text></g></svg></body></html>
